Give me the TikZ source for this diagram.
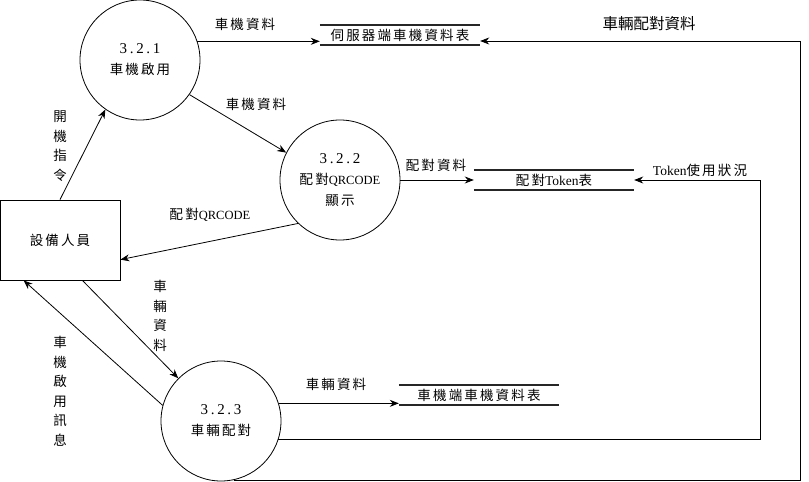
\documentclass[tikz,border=0pt]{standalone}
\usepackage{fontspec}
\setmainfont{Noto Sans CJK TC}[LetterSpace=16]
\newfontfamily\latin{Liberation Serif}
\newfontfamily\numfont{Liberation Serif}[LetterSpace=18]
\newfontfamily\bigzh{Noto Sans CJK TC}
\usetikzlibrary{arrows.meta}

\begin{document}
\begin{tikzpicture}[x=1pt,y=-1pt,font=\fontsize{13.5}{21}\selectfont,
    proc/.style={circle,draw,line width=0.8pt,minimum size=120pt,inner sep=0pt,align=center},
    store/.style={minimum width=160pt,minimum height=20pt,inner sep=0pt},
    flow/.style={line width=0.8pt,-{Stealth[length=9pt,width=7pt]}},
    vlabel/.style={align=center,font=\fontsize{13.5}{19.5}\selectfont}]
  \useasboundingbox (0,0) rectangle (809,482);
  % processes and the external entity
  \node[proc](p321) at (140,60) {{\numfont\fontsize{15}{21}\selectfont 3.2.1}\\車機啟用};
  \node[proc](p322) at (340,180) {{\numfont\fontsize{15}{21}\selectfont 3.2.2}\\配對{\latin\fontsize{12.5}{21}\selectfont QRCODE}\\顯示};
  \node[proc](p323) at (221,421) {{\numfont\fontsize{15}{21}\selectfont 3.2.3}\\車輛配對};
  \node[draw,line width=0.8pt,minimum width=120pt,minimum height=80pt](staff) at (60,240) {設備人員};
  % data stores
  \node[store](s1) at (400,35) {伺服器端車機資料表};
  \node[store](s2) at (554,180) {配對{\latin Token}表};
  \node[store](s3) at (479,395) {車機端車機資料表};
  \foreach \s in {s1,s2,s3}
    \draw[line width=1.5pt,black!85] (\s.north west) -- (\s.north east) (\s.south west) -- (\s.south east);
  \coordinate (r1) at (760,180);
  \coordinate (r2) at (800,41);
  % flows
  \draw[flow] (p321.18) -- (p321.18 -| s1.west);
  \draw[flow] (p321.-35) -- (p322.153);
  \draw[flow] (p322.east) -- (s2.west);
  \draw[flow] (p322.226) -- (staff.-18);
  \draw[flow] (staff.north) -- (p321.235);
  \draw[flow] (staff.-61) -- (p323.135);
  \draw[flow] (p323.165) -- (staff.228);
  \draw[flow] (p323.17.5) -- (p323.17.5 -| s3.west);
  \draw[flow] (p323.-18.5) -| (r1) -- (s2.east);
  \draw[flow] (p323.-78) -| (r2) -- (r2 -| s1.east);
  % labels
  \node(l1) at (245,24) {車機資料};
  \node(l2) at (256,104) {車機資料};
  \node(l3) at (436,165) {配對資料};
  \node(l4) at (210,215) {配對{\latin\fontsize{12.5}{21}\selectfont QRCODE}};
  \node(l5) at (700,170) {{\latin Token}使用狀況};
  \node(l6) at (336,384) {車輛資料};
  \node[font=\bigzh\fontsize{15.5}{17}\selectfont](l7) at (649,24) {車輛配對資料};
  \node[vlabel](l8) at (60,146) {開\\機\\指\\令};
  \node[vlabel](l9) at (160,316) {車\\輛\\資\\料};
  \node[vlabel](l10) at (60,391) {車\\機\\啟\\用\\訊\\息};
\end{tikzpicture}
\end{document}
